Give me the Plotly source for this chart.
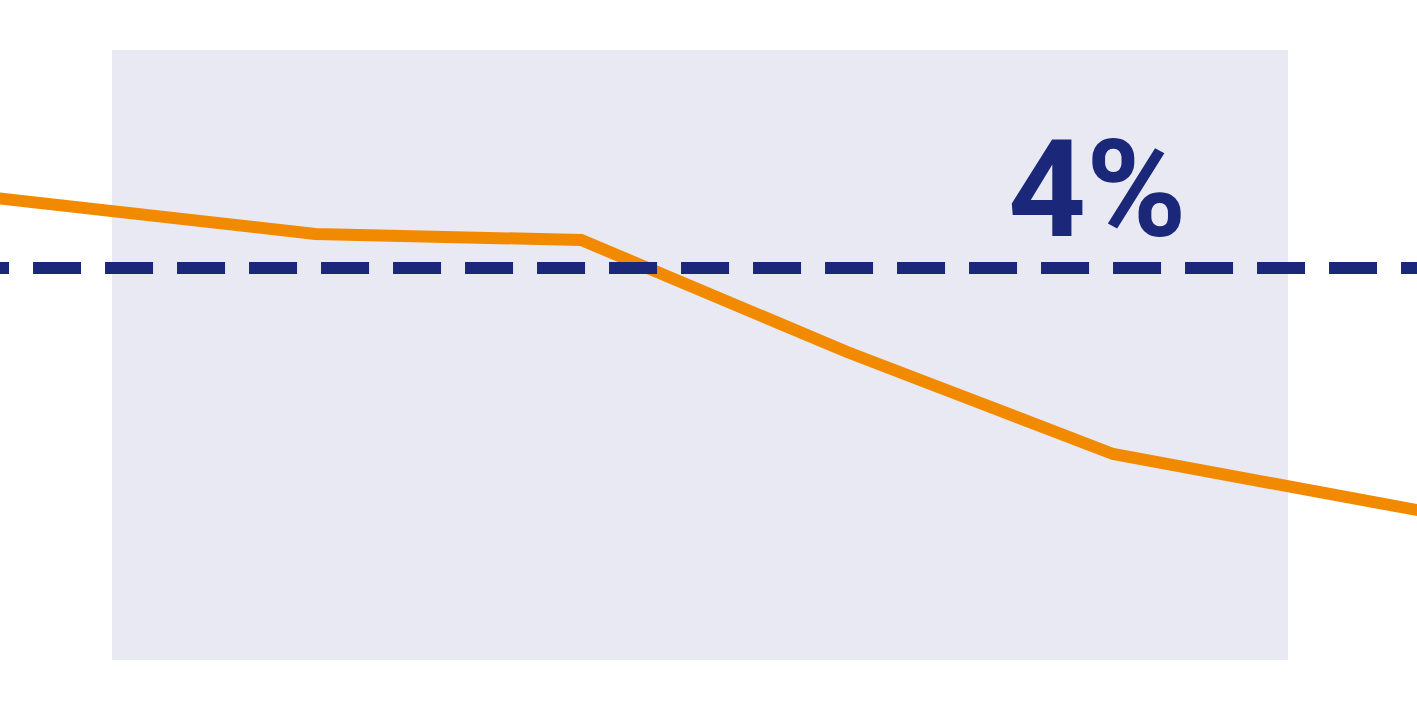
import plotly.graph_objects as go

# Series values (percent) by year
years = [2017, 2018, 2019, 2020, 2021, 2022, 2023, 2024]
rate = [4.47, 4.32, 4.17, 4.14, 3.58, 3.07, 2.82, 2.58]

# Target level
target = 4
target_label = '4%'

navy = '#1b2779'
orange = '#f28a00'

fig = go.Figure()

fig.add_trace(go.Scatter(
    x=years,
    y=rate,
    mode='lines',
    line=dict(color=orange, width=12),
    hoverinfo='skip',
))

# Shaded band behind the line
fig.add_shape(
    type='rect',
    xref='paper', yref='paper',
    x0=0.079, x1=0.909,
    y0=0.069, y1=0.9295,
    fillcolor='#e8e9f3',
    line=dict(width=0),
    layer='below',
)

# Dashed target line
fig.add_shape(
    type='line',
    xref='paper', yref='y',
    x0=-0.0275, x1=1.05,
    y0=target, y1=target,
    line=dict(color=navy, width=12, dash='48px,24px'),
)

fig.add_annotation(
    text=target_label,
    xref='paper', yref='y',
    x=0.7745, y=target,
    xanchor='center',
    yanchor='bottom',
    yshift=-3,
    showarrow=False,
    font=dict(family='Roboto', size=136, color=navy, weight='bold'),
)

fig.update_layout(
    width=1417,
    height=709,
    margin=dict(l=0, r=0, t=0, b=0),
    paper_bgcolor='white',
    plot_bgcolor='rgba(0,0,0,0)',
    showlegend=False,
    xaxis=dict(range=[2017.814, 2023.143], visible=False),
    yaxis=dict(range=[1.795, 5.34], visible=False),
)

# drop the page margin so the chart fills the window
fig.write_html('out.html', post_script="document.body.style.margin='0';",
               config=dict(displayModeBar=False))
